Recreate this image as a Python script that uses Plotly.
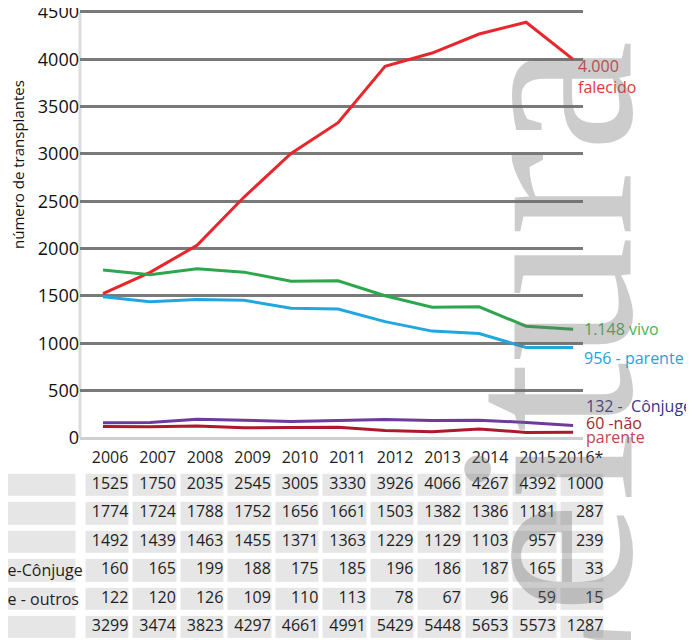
import plotly.graph_objects as go

# the page body keeps its default 8px margin, so the figure is 8px smaller
W, H = 686, 632

years = [2006, 2007, 2008, 2009, 2010, 2011, 2012, 2013, 2014, 2015, 2016]
col_labels = ['2006', '2007', '2008', '2009', '2010', '2011', '2012', '2013', '2014', '2015', '2016*']
row_labels = ['Falecido', 'Vivo', 'Vivo parente', 'Vivo não parente-Cônjuge', 'Vivo não parente - outros', 'Total']

# table values (2016 = parcial)
tab_falecido = [1525, 1750, 2035, 2545, 3005, 3330, 3926, 4066, 4267, 4392, 1000]
tab_vivo = [1774, 1724, 1788, 1752, 1656, 1661, 1503, 1382, 1386, 1181, 287]
tab_parente = [1492, 1439, 1463, 1455, 1371, 1363, 1229, 1129, 1103, 957, 239]
tab_conjuge = [160, 165, 199, 188, 175, 185, 196, 186, 187, 165, 33]
tab_outros = [122, 120, 126, 109, 110, 113, 78, 67, 96, 59, 15]
tab_total = [3299, 3474, 3823, 4297, 4661, 4991, 5429, 5448, 5653, 5573, 1287]

# projected 2016 values used for the line ends
proj_falecido = 4000
proj_vivo = 1148
proj_parente = 956
proj_conjuge = 132
proj_outros = 60

series = [
    ('falecido', tab_falecido[:10] + [proj_falecido], '#e8262b'),
    ('vivo', tab_vivo[:10] + [proj_vivo], '#2ea64e'),
    ('parente', tab_parente[:10] + [proj_parente], '#22a6de'),
    ('cônjuge', tab_conjuge[:10] + [proj_conjuge], '#6e3a9e'),
    ('outros', tab_outros[:10] + [proj_outros], '#ad1a2c'),
]

FONT = 'Open Sans'

fig = go.Figure()

for name, vals, color in series:
    fig.add_trace(go.Scatter(x=years, y=vals, mode='lines', name=name,
                             line=dict(color=color, width=3), hoverinfo='skip',
                             xaxis='x', yaxis='y'))

# ---- table below the chart ----
table_rows = [tab_falecido, tab_vivo, tab_parente, tab_conjuge, tab_outros, tab_total]
n_cols = len(col_labels)
# brick edges: label column, small blank gap, then one brick per year
x_edges = [-2.6, -0.63, -0.5] + [c + 0.5 for c in range(n_cols)]
y_edges = [r + 0.5 for r in range(len(table_rows) + 1)]
z = [[1, None] + [1] * n_cols for _ in table_rows]
fig.add_trace(go.Heatmap(x=x_edges, y=y_edges, z=z, xaxis='x2', yaxis='y2',
                         colorscale=[[0, '#e6e6e6'], [1, '#e6e6e6']], showscale=False,
                         xgap=4, ygap=6, hoverinfo='skip'))

tx, ty, tt = [], [], []
for c, lab in enumerate(col_labels):
    tx.append(c + 0.45); ty.append(0.1); tt.append(lab)
for r, row in enumerate(table_rows):
    for c, v in enumerate(row):
        tx.append(c + 0.45); ty.append(r + 1); tt.append(str(v))
fig.add_trace(go.Scatter(x=tx, y=ty, text=tt, mode='text', textposition='middle left',
                         textfont=dict(family=FONT, size=16, color='#1e1e1e'),
                         xaxis='x2', yaxis='y2', hoverinfo='skip', cliponaxis=False))

annotations = []
# row labels, left aligned so only the tail of long labels shows at the page edge
for r, lab in enumerate(row_labels):
    annotations.append(dict(xref='paper', yref='y2', x=-0.1756, y=r + 1, text=lab,
                            xanchor='left', yanchor='middle', showarrow=False,
                            font=dict(family=FONT, size=16, color='#1e1e1e')))

# y axis title (sits above the middle of the axis)
annotations.append(dict(xref='paper', yref='paper', x=10 / W, y=1 - 157 / H,
                        text='número de transplantes', textangle=-90, showarrow=False,
                        xanchor='center', yanchor='middle',
                        font=dict(family=FONT, size=15, color='#111')))

# end-of-line labels
end_labels = [
    ('4.000<br>falecido', proj_falecido, '#e2393c', 3, 6, 'top'),
    ('1.148 vivo', proj_vivo, '#3fb45c', 9, 0, 'middle'),
    ('956 - parente', proj_parente, '#24a3dc', 9, -11, 'middle'),
    ('132 -  Cônjuge', proj_conjuge, '#3a3487', 11, 20, 'middle'),
    ('60 -não', proj_outros, '#9e2a2c', 11, 9, 'middle'),
    ('parente', proj_outros, '#c4444c', 11, -5, 'middle'),
]
for text, yv, color, xs, ys, ya in end_labels:
    annotations.append(dict(xref='x', yref='y', x=2016, y=yv, text=text, xanchor='left',
                            yanchor=ya, xshift=xs, yshift=ys, showarrow=False, align='left',
                            font=dict(family=FONT, size=16, color=color)))

# watermark
annotations.append(dict(xref='paper', yref='paper', x=538 / W, y=1 - 30 / H, text='Leitura',
                        textangle=-90, xanchor='center', yanchor='top', showarrow=False,
                        font=dict(family='Liberation Serif', size=252, color='rgba(110,110,110,0.35)')))

fig.update_layout(
    width=W, height=H,
    margin=dict(l=0, r=0, t=0, b=0),
    paper_bgcolor='white', plot_bgcolor='rgba(0,0,0,0)',
    showlegend=False,
    font=dict(family=FONT, size=16, color='#1e1e1e'),
    xaxis=dict(domain=[72 / W, 575 / W], range=[2005.51, 2016.21], showticklabels=False,
               showgrid=False, zeroline=False, showline=False, ticks='', anchor='y',
               automargin=False),
    yaxis=dict(domain=[1 - 430 / H, 1], range=[0, 4542], dtick=500,
               showgrid=True, gridcolor='#7a7a7a', gridwidth=2.5,
               zeroline=True, zerolinecolor='#cfcfcf', zerolinewidth=3,
               showline=False, ticks='', ticklabelstandoff=0, ticklabeloverflow='allow',
               tickfont=dict(family=FONT, size=18, color='#111'),
               anchor='x', automargin=False),
    xaxis2=dict(domain=[0, 1], range=[-99 / 47.5, (W - 99) / 47.5], visible=False,
                anchor='y2', automargin=False),
    yaxis2=dict(domain=[0, 195 / H], range=[1 + (632 - 477) / 28.4, 1 + (437 - 477) / 28.4],
                visible=False, anchor='x2', automargin=False),
    annotations=annotations,
    # light grey left axis, drawn from 0 to 4500 like the reference
    shapes=[dict(type='line', xref='paper', yref='y', x0=72 / W, x1=72 / W, y0=0, y1=4500,
                 line=dict(color='#dcdcdc', width=3), layer='below')],
)

fig.write_html('out.html')
